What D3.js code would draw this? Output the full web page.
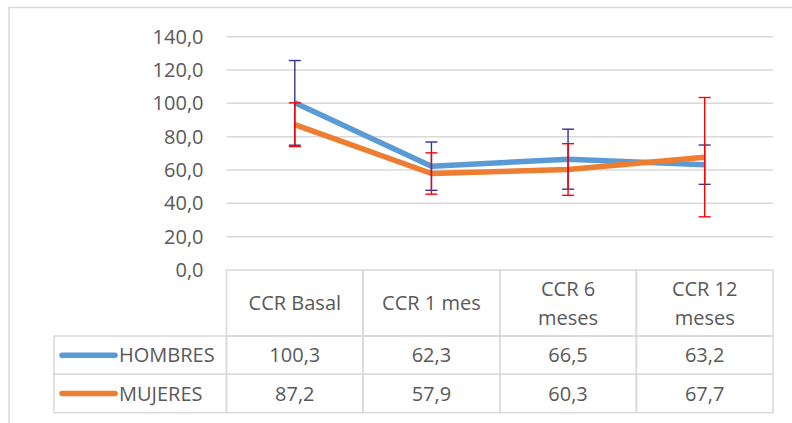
<!DOCTYPE html>
<html>
<head>
<meta charset="utf-8">
<script src="https://cdn.jsdelivr.net/npm/d3@7"></script>
<style>
  html, body { margin: 0; padding: 0; background: #fff; }
  svg { display: block; font-family: "Open Sans", sans-serif; }
</style>
</head>
<body>
<svg id="chart" width="792" height="423"></svg>
<script>
// ---- data ----
const categories = ["CCR Basal", "CCR 1 mes", "CCR 6 meses", "CCR 12 meses"];
const categoryLines = [["CCR Basal"], ["CCR 1 mes"], ["CCR 6", "meses"], ["CCR 12", "meses"]];
const seriesNames = ["HOMBRES", "MUJERES"];
const hombres = [100.3, 62.3, 66.5, 63.2];
const mujeres = [87.2, 57.9, 60.3, 67.7];
const hombresSD = [25.4, 14.5, 18.0, 11.8];
const mujeresSD = [13.1, 12.4, 15.5, 35.8];
const yTicks = [0, 20, 40, 60, 80, 100, 120, 140];

const seriesColors = ["#5B9BD5", "#ED7D31"];
const errColors = ["#33339A", "#FF0000"];

const svg = d3.select("#chart");
const textColor = "#595959";
const gridColor = "#D9D9D9";

// chart frame
svg.append("rect").attr("x", 9).attr("y", 7.5).attr("width", 900).attr("height", 500)
  .attr("fill", "none").attr("stroke", gridColor).attr("stroke-width", 1.5);

const x = d3.scaleBand().domain(categories).range([226.5, 773]).padding(0);
const y = d3.scaleLinear().domain([0, 140]).range([270, 36.7]);

// gridlines
svg.append("g").selectAll("line").data(yTicks.filter(d => d > 0)).join("line")
  .attr("x1", 226.5).attr("x2", 773)
  .attr("y1", d => y(d)).attr("y2", d => y(d))
  .attr("stroke", gridColor).attr("stroke-width", 1.5);

// y axis labels
const yAxis = d3.axisLeft(y).tickValues(yTicks).tickSize(0).tickPadding(23)
  .tickFormat(d => d3.format(".1f")(d).replace(".", ","));
const ga = svg.append("g").attr("transform", "translate(226.5,0)").call(yAxis);
ga.select(".domain").remove();
ga.selectAll("text").attr("fill", textColor).style("font-size", "20px")
  .style("font-family", "'Open Sans', sans-serif");

// lines
const data = [hombres, mujeres];
const sds = [hombresSD, mujeresSD];
const line = d3.line().x((d, i) => x(categories[i]) + x.bandwidth() / 2).y(d => y(d));
data.forEach((vals, s) => {
  svg.append("path").datum(vals).attr("d", line)
    .attr("fill", "none").attr("stroke", seriesColors[s]).attr("stroke-width", 5.5)
    .attr("stroke-linejoin", "round");
});

// error bars
data.forEach((vals, s) => {
  const g = svg.append("g").attr("stroke", errColors[s]).attr("stroke-width", 1.4);
  vals.forEach((v, i) => {
    const cx = x(categories[i]) + x.bandwidth() / 2;
    const top = y(v + sds[s][i]), bot = y(v - sds[s][i]);
    g.append("line").attr("x1", cx).attr("x2", cx).attr("y1", top).attr("y2", bot);
    g.append("line").attr("x1", cx - 6).attr("x2", cx + 6).attr("y1", top).attr("y2", top);
    g.append("line").attr("x1", cx - 6).attr("x2", cx + 6).attr("y1", bot).attr("y2", bot);
  });
});

// data table
const rowTops = [270, 336, 374.3, 412.7];
const legendX0 = 54;
const tbl = svg.append("g");
// header cells
categories.forEach((c, i) => {
  tbl.append("rect").attr("x", x(c)).attr("y", rowTops[0])
    .attr("width", x.bandwidth()).attr("height", rowTops[1] - rowTops[0])
    .attr("fill", "none").attr("stroke", gridColor).attr("stroke-width", 1.5);
  const lines = categoryLines[i];
  const cy = (rowTops[0] + rowTops[1]) / 2;
  lines.forEach((t, k) => {
    tbl.append("text").attr("x", x(c) + x.bandwidth() / 2)
      .attr("y", cy + (k - (lines.length - 1) / 2) * 29)
      .attr("dy", "0.35em").attr("text-anchor", "middle")
      .attr("fill", textColor).style("font-size", "20px").text(t);
  });
});
// data rows
seriesNames.forEach((name, s) => {
  const y0 = rowTops[s + 1], y1 = rowTops[s + 2];
  const cy = (y0 + y1) / 2;
  tbl.append("rect").attr("x", legendX0).attr("y", y0)
    .attr("width", 226.5 - legendX0).attr("height", y1 - y0)
    .attr("fill", "none").attr("stroke", gridColor).attr("stroke-width", 1.5);
  tbl.append("line").attr("x1", 62).attr("x2", 115).attr("y1", cy).attr("y2", cy)
    .attr("stroke", seriesColors[s]).attr("stroke-width", 5.5).attr("stroke-linecap", "round");
  tbl.append("text").attr("x", 119).attr("y", cy).attr("dy", "0.35em")
    .attr("fill", textColor).style("font-size", "20px").text(name);
  categories.forEach((c, i) => {
    tbl.append("rect").attr("x", x(c)).attr("y", y0)
      .attr("width", x.bandwidth()).attr("height", y1 - y0)
      .attr("fill", "none").attr("stroke", gridColor).attr("stroke-width", 1.5);
    tbl.append("text").attr("x", x(c) + x.bandwidth() / 2).attr("y", cy).attr("dy", "0.35em")
      .attr("text-anchor", "middle").attr("fill", textColor).style("font-size", "20px")
      .text(d3.format(".1f")(data[s][i]).replace(".", ","));
  });
});
</script>
</body>
</html>
